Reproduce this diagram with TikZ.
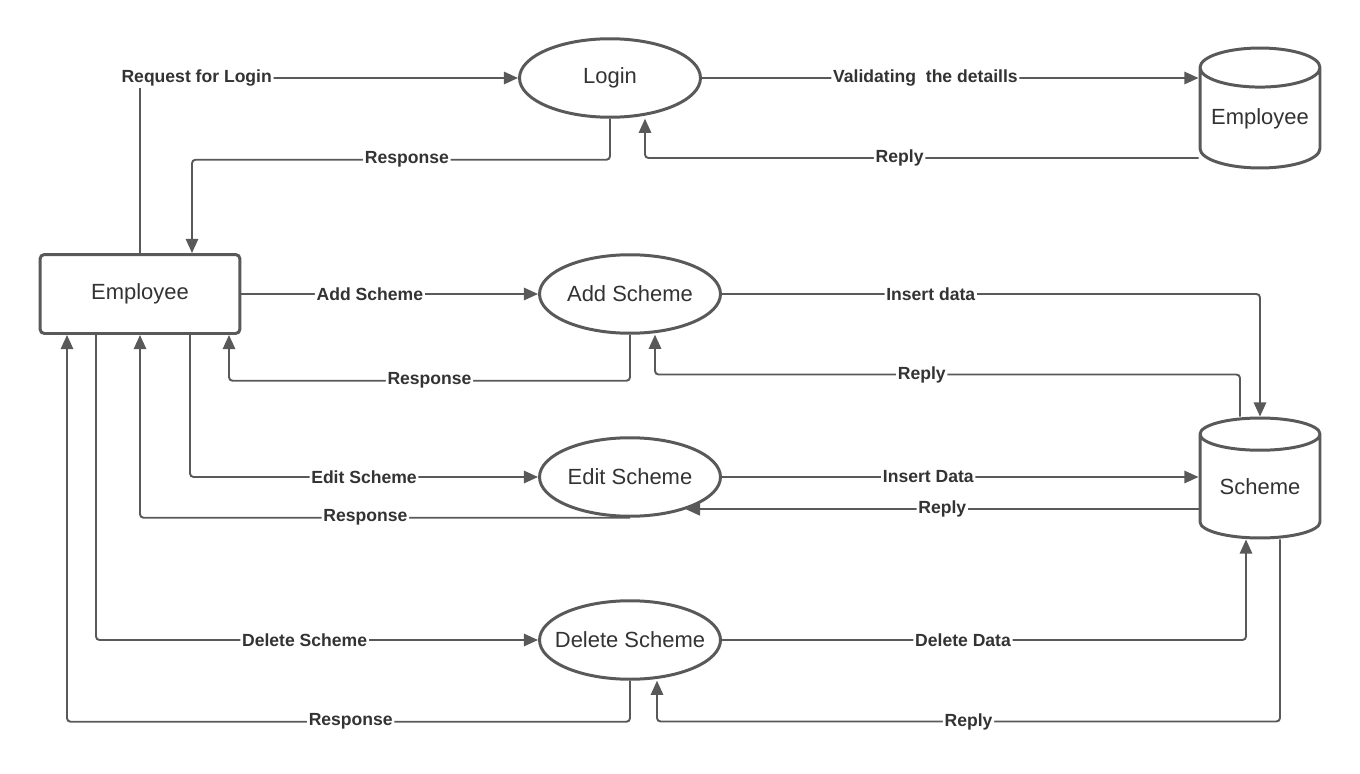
\documentclass[tikz,border=0pt]{standalone}
\usepackage{fontspec}
\setmainfont{Liberation Sans}
\usetikzlibrary{shapes.geometric, arrows.meta, calc}
\definecolor{lineg}{RGB}{89,89,89}
\definecolor{textc}{RGB}{51,51,51}
\begin{document}
\begin{tikzpicture}[
    x=0.02cm, y=-0.02cm,
    % Styles
    entity/.style={draw=lineg, line width=1.7pt, rounded corners=2.5pt, fill=white,
        minimum width=4cm, minimum height=1.58cm, text=textc,
        font=\fontsize{12.5}{15}\selectfont},
    process/.style={ellipse, draw=lineg, line width=1.7pt, fill=white,
        minimum width=3.62cm, minimum height=1.57cm, inner ysep=0pt, inner xsep=-0.5cm,
        text=textc, font=\fontsize{12.5}{15}\selectfont},
    datastore/.style={cylinder, shape border rotate=90, aspect=0.4, draw=lineg,
        line width=1.7pt, fill=white, minimum width=2.4cm, minimum height=2.4cm,
        inner sep=0pt, anchor=shape center, text=textc,
        font=\fontsize{12.5}{15}\selectfont},
    flow/.style={draw=lineg, line width=1.1pt, rounded corners=2pt,
        -{Triangle[length=8pt, width=7pt]}},
    lbl/.style={fill=white, inner sep=1pt, text=textc,
        font=\fontsize{10}{12}\selectfont\bfseries}
]
\useasboundingbox (0,0) rectangle (1360,774);

% --- Entity ---
\node[entity] (emp) at (140,294) {Employee};

% --- Processes ---
\node[process] (login) at (610,78) {Login};
\node[process] (addsch) at (630,294) {Add Scheme};
\node[process] (editsch) at (630,477) {Edit Scheme};
\node[process] (delsch) at (630,640) {Delete Scheme};

% --- Data stores ---
\node[datastore] (empdb) at (1260,108) {Employee};
\node[datastore] (schdb) at (1260,478) {Scheme};

% --- Login flows ---
\draw[flow] (emp.north) |- node[lbl, pos=0.575] {Request for Login} (login.west);
\draw[flow] (login.east) -- node[lbl, pos=0.45] {Validating\ \ the detaills} (login.east -| empdb.west);
\draw[flow] (empdb.west |- 0,158) -| node[lbl, pos=0.27] {Reply} (login.south -| 645,0);
\draw[flow] (login.south) -- ++(0,41) -| node[lbl, pos=0.243] {Response} ($(emp.north)+(52,0)$);

% --- Add Scheme flows ---
\draw[flow] (emp.east) -- node[lbl, pos=0.433] {Add Scheme} (addsch.west);
\draw[flow] (addsch.east) -| node[lbl, pos=0.194] {Insert data} (schdb.north);
\draw[flow] ($(schdb.north)+(-20,0)$) -- ++(0,-42) -| node[lbl, pos=0.272] {Reply} ($(addsch.south)+(25,0)$);
\draw[flow] (addsch.south) -- ++(0,46) -| node[lbl, pos=0.25] {Response} ($(emp.south)+(89,0)$);

% --- Edit Scheme flows ---
\draw[flow] ($(emp.south)+(50,0)$) |- node[lbl, pos=0.75] {Edit Scheme} (editsch.west);
\draw[flow] (editsch.east) -- node[lbl, pos=0.433] {Insert Data} (editsch.east -| schdb.west);
\draw[flow] (schdb.west |- editsch.330) -- node[lbl, pos=0.5] {Reply} (editsch.330);
\draw[flow] (editsch.south) -| node[lbl, pos=0.27] {Response} (emp.south);

% --- Delete Scheme flows ---
\draw[flow] ($(emp.south)+(-44,0)$) |- node[lbl, pos=0.736] {Delete Scheme} (delsch.west);
\draw[flow] (delsch.east) -| node[lbl, pos=0.23] {Delete Data} ($(schdb.south)+(-14,0)$);
\draw[flow] ($(schdb.south)+(20,0)$) -- ++(0,182) -| node[lbl, pos=0.25] {Reply} ($(delsch.south)+(27,0)$);
\draw[flow] (delsch.south) -- ++(0,41) -| node[lbl, pos=0.248] {Response} ($(emp.south)+(-73,0)$);

\end{tikzpicture}
\end{document}
